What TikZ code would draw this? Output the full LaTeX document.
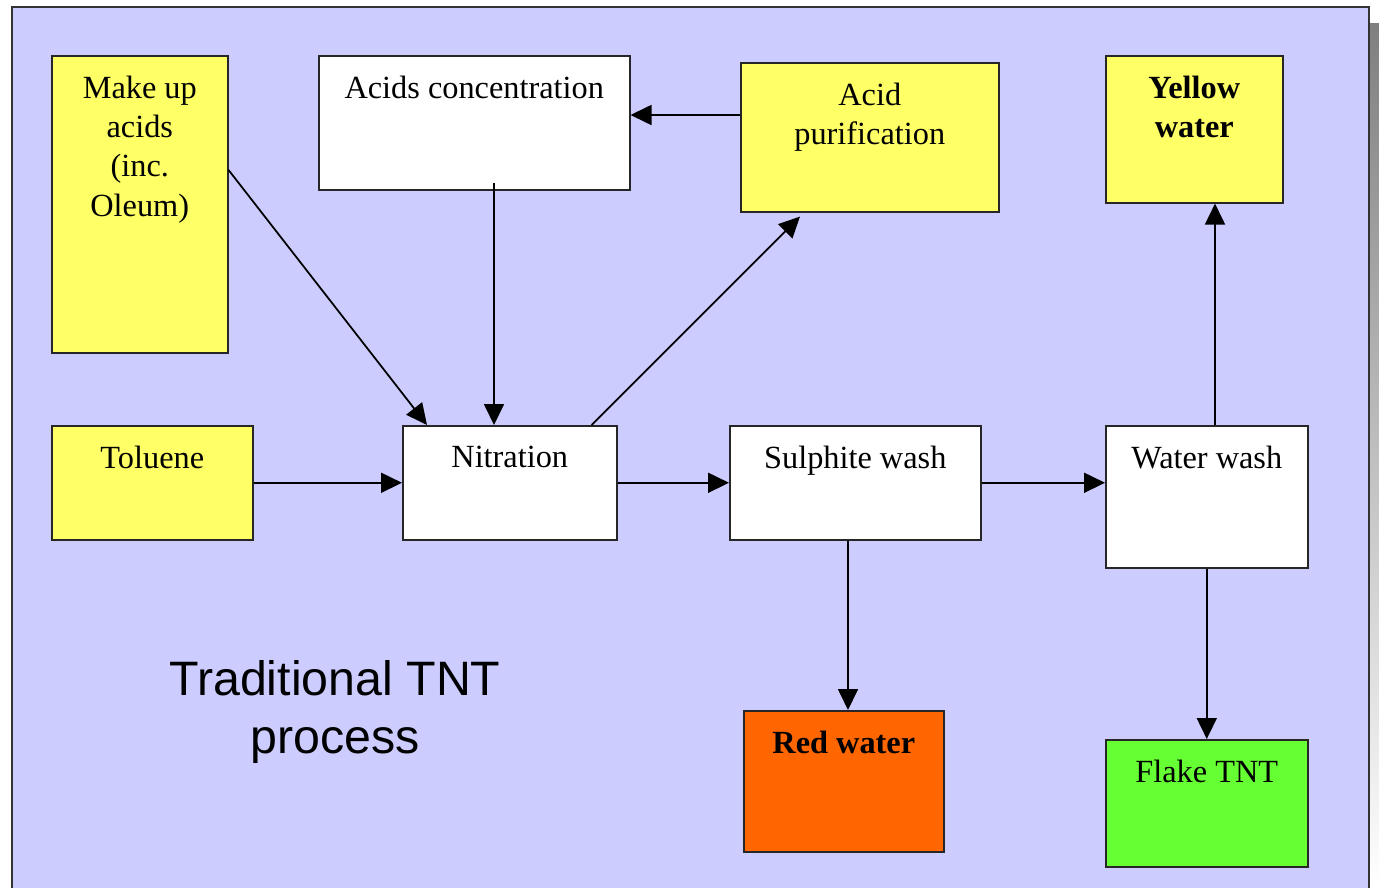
\documentclass[tikz,border=0pt]{standalone}
\usepackage{fontspec}
\setmainfont{Liberation Serif}
\newfontfamily\captionfont{Liberation Sans}
\usetikzlibrary{arrows.meta, calc, positioning}

\definecolor{panel}{HTML}{CCCCFF}
\definecolor{yel}{HTML}{FFFF66}
\definecolor{redwater}{HTML}{FF6600}
\definecolor{flake}{HTML}{66FF33}
\definecolor{shade}{HTML}{808080}

\begin{document}
\begin{tikzpicture}[
    x=0.02cm, y=-0.02cm,
    unit/.style={draw=black!85, line width=0.9pt, anchor=north west, inner sep=0pt},
    txt/.style={anchor=north, inner sep=0pt, align=center, yshift=-0.41cm,
        font=\fontsize{18.4}{22.4}\selectfont},
    flow/.style={-{Triangle[length=0.42cm,width=0.4cm]}, line width=1pt}
]
\useasboundingbox (0,0) rectangle (1379,888);

% panel and its shadow
\fill[shade] (1369,24) rectangle (1379,888);
\filldraw[fill=panel, draw=black!80, line width=1.1pt] (12,7) rectangle (1369,900);

% top row
\node[unit, fill=yel, minimum width=3.52cm, minimum height=5.94cm,
    label={[txt]north:Make up\\acids\\(inc.\\Oleum)}] (mkup) at (51,55) {};
\node[unit, fill=white, minimum width=6.22cm, minimum height=2.68cm,
    label={[txt]north:Acids concentration}] (acids) at (318,55) {};
\node[unit, fill=yel, minimum width=5.16cm, minimum height=2.98cm,
    label={[txt]north:Acid\\purification}] (purif) at (740,62) {};
\node[unit, fill=yel, minimum width=3.54cm, minimum height=2.94cm,
    label={[txt]north:\textbf{Yellow}\\\textbf{water}}] (yw) at (1105,55) {};

% middle row
\node[unit, fill=yel, minimum width=4.02cm, minimum height=2.28cm,
    label={[txt]north:Toluene}] (tol) at (51,425) {};
\node[unit, fill=white, minimum width=4.28cm, minimum height=2.28cm,
    label={[txt]north:Nitration}] (nitr) at (402,425) {};
\node[unit, fill=white, minimum width=5.02cm, minimum height=2.28cm,
    label={[txt]north:Sulphite wash}] (sulph) at (729,425) {};
\node[unit, fill=white, minimum width=4.04cm, minimum height=2.84cm,
    label={[txt]north:Water wash}] (wwash) at (1105,425) {};

% bottom row
\node[unit, fill=redwater, minimum width=4.0cm, minimum height=2.82cm,
    label={[txt]north:\textbf{Red water}}] (red) at (743,710) {};
\node[unit, fill=flake, minimum width=4.04cm, minimum height=2.54cm,
    label={[txt]north:Flake TNT}] (flk) at (1105,739) {};

% caption
\node[anchor=north, inner sep=0pt, align=center,
    font=\captionfont\fontsize{27.5}{33}\selectfont] (title) at (335,660)
    {Traditional TNT\\process};

% acid loop
\draw[flow] ($(mkup.north east)+(0,115)$) -- ($(nitr.north west)+(25,0)$);
\draw[flow] ($(acids.south west)+(176,-8)$) coordinate (a1) -- (a1 |- nitr.north);
\draw[flow] ($(nitr.north east)+(-26,0)$) -- ($(purif.south west)+(60,4)$);
\draw[flow] ($(purif.north west)+(0,53)$) coordinate (p1) -- (p1 -| acids.east);

% main line
\draw[flow] (tol.east) -- (nitr.west);
\draw[flow] (nitr.east) -- (sulph.west);
\draw[flow] (sulph.east) -- (sulph.east -| wwash.west);

% outlets
\draw[flow] ($(sulph.south west)+(119,0)$) coordinate (s1) -- (s1 |- red.north);
\draw[flow] ($(wwash.north west)+(110,0)$) coordinate (w1) -- (w1 |- yw.south);
\draw[flow] (wwash.south) -- (flk.north);
\end{tikzpicture}
\end{document}
